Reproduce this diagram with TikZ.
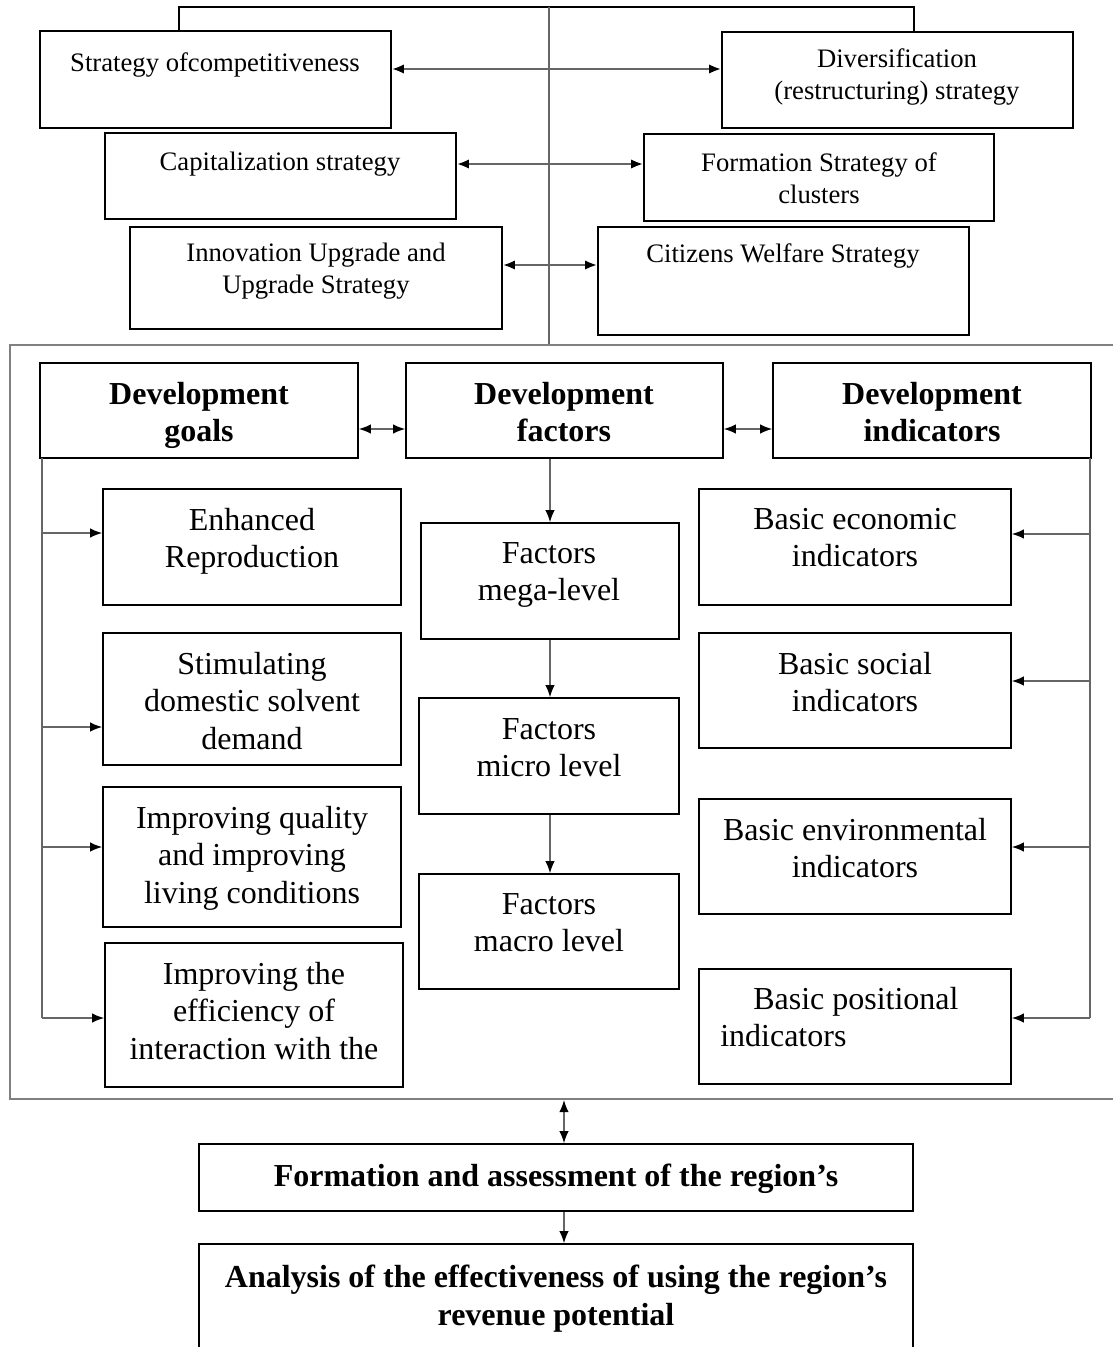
\documentclass[tikz,border=0pt]{standalone}
\usepackage{fontspec}
\setmainfont{Liberation Serif}
\usetikzlibrary{arrows.meta,fit}
\tikzset{
  every node/.style={inner sep=0pt},
  box/.style={draw, line width=1.2pt, inner sep=0pt},
  frame/.style={draw=framecol, line width=1.5pt, inner sep=0pt},
  toptext/.style={font=\fontsize{20}{24}\selectfont, align=center, anchor=north},
  midtext/.style={font=\fontsize{24}{28}\selectfont, align=center, anchor=north},
  headtext/.style={font=\fontsize{24}{28}\selectfont\bfseries, align=center, anchor=north},
  link/.style={draw=linecol, line width=1pt}
}

\begin{document}
\begin{tikzpicture}[x=0.75pt, y=-0.75pt, >={Latex[length=9pt,width=7pt,color=black]}]
  % Colours of the connectors and the frame.
  \colorlet{linecol}{black!60}
  \colorlet{framecol}{black!50}

  \useasboundingbox (0,0) rectangle (1113,1347);

  % Strategies (top block).
  \node[box, fit={(40,31) (391,128)}] (compet) {};
  \node[box, fit={(722,32) (1073,128)}] (divers) {};
  \node[box, fit={(105,133) (456,219)}] (capital) {};
  \node[box, fit={(644,134) (994,221)}] (cluster) {};
  \node[box, fit={(130,227) (502,329)}] (innov) {};
  \node[box, fit={(598,227) (969,335)}] (welfare) {};

  \node[toptext] (compet-t) at (215,52) {Strategy ofcompetitiveness};
  \node[toptext] (divers-t) at (897,48) {Diversification\\(restructuring) strategy};
  \node[toptext] (capital-t) at (280,152) {Capitalization strategy};
  \node[toptext] (cluster-t) at (819,152) {Formation Strategy of\\clusters};
  \node[toptext] (innov-t) at (316,243) {Innovation Upgrade and\\Upgrade Strategy};
  \node[toptext] (welfare-t) at (783,243) {Citizens Welfare Strategy};

  % Bracket and spine.
  \coordinate (brl) at (179,7);
  \coordinate (brr) at (914,7);
  \coordinate (spine) at (549,7);
  \draw[line width=0.8pt] (compet.north -| brl) -- (brl) -- (brr) -- (divers.north -| brr);
  \draw[link] (spine) -- (spine |- 0,345);

  \draw[link, line width=2pt, <->] (compet.east |- 0,69) -- (divers.west |- 0,69);
  \draw[link, line width=2pt, <->] (capital.east |- 0,164) -- (cluster.west |- 0,164);
  \draw[link, line width=2pt, <->] (innov.east |- 0,265) -- (welfare.west |- 0,265);

  % Goals, factors, indicators.
  \node[frame, fit={(10,345) (1125,1099)}] (frame) {};

  \node[box, fit={(40,363) (358,458)}] (goals) {};
  \node[box, fit={(406,363) (723,458)}] (factors) {};
  \node[box, fit={(773,363) (1091,458)}] (indic) {};

  \node[headtext] (goals-t) at (199,382) {Development\\goals};
  \node[headtext] (factors-t) at (564,382) {Development\\factors};
  \node[headtext] (indic-t) at (932,382) {Development\\indicators};

  \draw[link, <->] (goals.east |- 0,429) -- (factors.west |- 0,429);
  \draw[link, <->] (factors.east |- 0,429) -- (indic.west |- 0,429);

  % Goals column.
  \node[box, fit={(103,489) (401,605)}] (enh) {};
  \node[box, fit={(103,633) (401,765)}] (stim) {};
  \node[box, fit={(103,787) (401,927)}] (qual) {};
  \node[box, fit={(105,943) (403,1087)}] (eff) {};

  \node[midtext] (enh-t) at (252,508) {Enhanced\\Reproduction};
  \node[midtext] (stim-t) at (252,652) {Stimulating\\domestic solvent\\demand};
  \node[midtext] (qual-t) at (252,806) {Improving quality\\and improving\\living conditions};
  \node[midtext] (eff-t) at (254,962) {Improving the\\efficiency of\\interaction with the};

  \coordinate (gbus) at (42,458);
  \draw[link] (gbus) -- (gbus |- 0,1018);
  \draw[link, ->] (gbus |- 0,533) -- (enh.west |- 0,533);
  \draw[link, ->] (gbus |- 0,727) -- (stim.west |- 0,727);
  \draw[link, ->] (gbus |- 0,847) -- (qual.west |- 0,847);
  \draw[link, ->] (gbus |- 0,1018) -- (eff.west |- 0,1018);

  % Factors column.
  \node[box, fit={(421,523) (679,639)}] (mega) {};
  \node[box, fit={(419,698) (679,814)}] (micro) {};
  \node[box, fit={(419,874) (679,989)}] (macro) {};

  \node[midtext] (mega-t) at (549,542) {Factors\\mega-level};
  \node[midtext] (micro-t) at (549,718) {Factors\\micro level};
  \node[midtext] (macro-t) at (549,893) {Factors\\macro level};

  \draw[link, ->] (mega.north |- factors.south) -- (mega.north);
  \draw[link, ->] (mega.south) -- (micro.north -| mega.south);
  \draw[link, ->] (micro.south -| mega.south) -- (macro.north -| mega.south);

  % Indicators column.
  \node[box, fit={(699,489) (1011,605)}] (econ) {};
  \node[box, fit={(699,633) (1011,748)}] (social) {};
  \node[box, fit={(699,799) (1011,914)}] (env) {};
  \node[box, fit={(699,969) (1011,1084)}] (pos) {};

  \node[midtext] (econ-t) at (855,508) {Basic economic\\indicators};
  \node[midtext] (social-t) at (855,652) {Basic social\\indicators};
  \node[midtext] (env-t) at (855,818) {Basic environmental\\indicators};
  \node[midtext, align=left, anchor=north west] (pos-t) at (720,987) {\hspace*{24.75pt}Basic positional\\indicators};

  \coordinate (ibus) at (1090,458);
  \draw[link] (ibus) -- (ibus |- 0,1018);
  \draw[link, ->] (ibus |- 0,534) -- (econ.east |- 0,534);
  \draw[link, ->] (ibus |- 0,681) -- (social.east |- 0,681);
  \draw[link, ->] (ibus |- 0,847) -- (env.east |- 0,847);
  \draw[link, ->] (ibus |- 0,1018) -- (pos.east |- 0,1018);

  % Assessment and analysis.
  \node[box, fit={(199,1144) (913,1211)}] (form) {};
  \node[box, fit={(199,1244) (913,1360)}] (analysis) {};

  \node[headtext] (form-t) at (556,1164) {Formation and assessment of the region’s};
  \node[headtext] (analysis-t) at (556,1265) {Analysis of the effectiveness of using the region’s\\revenue potential};

  \draw[link, <->] (frame.south -| 564,0) -- (form.north -| 564,0);
  \draw[link, ->] (form.south -| 564,0) -- (analysis.north -| 564,0);
\end{tikzpicture}
\end{document}
